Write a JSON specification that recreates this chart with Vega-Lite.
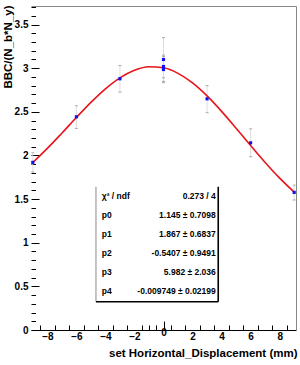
{
  "$schema": "https://vega.github.io/schema/vega-lite/v6.json",
  "width": 265,
  "height": 324,
  "autosize": {"type": "none"},
  "padding": {"left": 31, "top": 6, "right": 4, "bottom": 35},
  "background": "white",
  "config": {
    "view": {"stroke": null},
    "font": "Liberation Sans",
    "axis": {
      "labelFont": "Liberation Sans",
      "labelFontWeight": "bold",
      "labelFontSize": 10,
      "labelColor": "#000",
      "titleFont": "Liberation Sans",
      "titleFontWeight": "bold",
      "titleFontSize": 11.5,
      "titleColor": "#000",
      "grid": false,
      "labelFlush": false,
      "labelOverlap": false,
      "labelBound": false
    }
  },
  "datasets": {
    "points": [
      {"x": -9, "y": 1.921, "lo": 1.811, "hi": 2.031},
      {"x": -6, "y": 2.443, "lo": 2.31, "hi": 2.57},
      {"x": -3, "y": 2.879, "lo": 2.726, "hi": 3.03},
      {"x": 0, "y": 3.1, "lo": 2.85, "hi": 3.35},
      {"x": 0, "y": 3.02, "lo": 2.89, "hi": 3.15},
      {"x": 0, "y": 2.985, "lo": 2.835, "hi": 3.135},
      {"x": 3, "y": 2.649, "lo": 2.49, "hi": 2.8},
      {"x": 6, "y": 2.145, "lo": 1.985, "hi": 2.305},
      {"x": 9, "y": 1.577, "lo": 1.49, "hi": 1.66}
    ],
    "curve": [
      {"x": -9, "y": 1.9197},
      {"x": -8, "y": 2.0811},
      {"x": -7, "y": 2.2555},
      {"x": -6, "y": 2.4346},
      {"x": -5, "y": 2.6079},
      {"x": -4, "y": 2.7635},
      {"x": -3, "y": 2.89},
      {"x": -2, "y": 2.9768},
      {"x": -1, "y": 3.0163},
      {"x": 0, "y": 3.0044},
      {"x": 1, "y": 2.9413},
      {"x": 2, "y": 2.8315},
      {"x": 3, "y": 2.6827},
      {"x": 4, "y": 2.5057},
      {"x": 5, "y": 2.3121},
      {"x": 6, "y": 2.1135},
      {"x": 7, "y": 1.9203},
      {"x": 8, "y": 1.7408},
      {"x": 9, "y": 1.5806}
    ],
    "box": [
      {"side": "left", "x": -4.65, "x2": -4.65, "y": 0.324, "y2": 1.641},
      {"side": "right", "x": 3.77, "x2": 3.77, "y": 0.324, "y2": 1.641},
      {"side": "bottom", "x": -4.65, "x2": 3.77, "y": 0.324, "y2": 0.324}
    ],
    "stats": [
      {"label": "χ² / ndf", "value": "0.273 / 4", "y": 1.534},
      {"label": "p0", "value": "1.145 ± 0.7098", "y": 1.317},
      {"label": "p1", "value": "1.867 ± 0.6837", "y": 1.099},
      {"label": "p2", "value": "-0.5407 ± 0.9491", "y": 0.882},
      {"label": "p3", "value": "5.982 ± 2.036", "y": 0.664},
      {"label": "p4", "value": "-0.009749 ± 0.02199", "y": 0.447}
    ]
  },
  "layer": [
    {
      "data": {"name": "points"},
      "mark": {"type": "rule", "color": "#dddddd", "strokeWidth": 1},
      "encoding": {
        "x": {
          "field": "x",
          "type": "quantitative",
          "scale": {"domain": [-9.125, 9.125], "nice": false, "zero": false},
          "axis": {
            "orient": "bottom",
            "values": [-8.5, -8, -7.5, -6.5, -6, -5.5, -4.5, -4, -3.5, -2.5, -2, -1.5, -1, -0.5, 0, 0.5, 1.5, 2, 2.5, 3.5, 4, 4.5, 5.5, 6, 6.5, 7.5, 8, 8.5],
            "format": "~g",
            "domainColor": "#000",
            "tickColor": "#000",
            "tickSize": {"condition": {"test": "datum.value === 0", "value": -9}, "value": -5},
            "tickOpacity": {"condition": {"test": "datum.value % 2 === 0 && datum.value !== 0", "value": 0}, "value": 1},
            "labelOpacity": {"condition": {"test": "datum.value % 2 !== 0", "value": 0}, "value": 1},
            "labelPadding": 6,
            "title": "set Horizontal_Displacement (mm)",
            "titleX": 266,
            "titleY": 23,
            "titleAlign": "right",
            "titleBaseline": "middle"
          }
        },
        "y": {
          "field": "lo",
          "type": "quantitative",
          "scale": {"domain": [0, 3.713], "nice": false},
          "axis": {
            "orient": "left",
            "values": [0, 0.1, 0.2, 0.3, 0.4, 0.5, 0.6, 0.7, 0.8, 0.9, 1, 1.1, 1.2, 1.3, 1.4, 1.5, 1.6, 1.7, 1.8, 1.9, 2, 2.1, 2.2, 2.3, 2.4, 2.5, 2.6, 2.7, 2.8, 2.9, 3, 3.1, 3.2, 3.3, 3.4, 3.5, 3.6, 3.7],
            "format": "~g",
            "domain": false,
            "tickColor": "#000",
            "tickSize": {"condition": {"test": "abs(datum.value * 2 - round(datum.value * 2)) < 0.001", "value": -8}, "value": -4.5},
            "labelOpacity": {"condition": {"test": "abs(datum.value * 2 - round(datum.value * 2)) < 0.001", "value": 1}, "value": 0},
            "labelPadding": 11,
            "title": "BBC/(N_b*N_y)",
            "titleX": -23,
            "titleY": -1,
            "titleAngle": -90,
            "titleAlign": "right",
            "titleBaseline": "middle"
          }
        },
        "y2": {"field": "hi"}
      }
    },
    {
      "data": {"name": "points"},
      "mark": {"type": "tick", "orient": "horizontal", "color": "#888888", "size": 3, "thickness": 1},
      "encoding": {
        "x": {"field": "x", "type": "quantitative", "axis": null},
        "y": {"field": "lo", "type": "quantitative", "axis": null}
      }
    },
    {
      "data": {"name": "points"},
      "mark": {"type": "tick", "orient": "horizontal", "color": "#888888", "size": 3, "thickness": 1},
      "encoding": {
        "x": {"field": "x", "type": "quantitative", "axis": null},
        "y": {"field": "hi", "type": "quantitative", "axis": null}
      }
    },
    {
      "data": {"name": "curve"},
      "mark": {"type": "line", "color": "#e8141a", "strokeWidth": 1.6, "interpolate": "monotone"},
      "encoding": {
        "x": {"field": "x", "type": "quantitative", "axis": {"orient": "top", "domainColor": "#888", "ticks": false, "labels": false, "title": null}},
        "y": {"field": "y", "type": "quantitative", "axis": {"orient": "right", "domainColor": "#888", "ticks": false, "labels": false, "title": null}}
      }
    },
    {
      "data": {"name": "points"},
      "mark": {"type": "square", "color": "#1010f0", "filled": true, "opacity": 1, "size": 10},
      "encoding": {
        "x": {"field": "x", "type": "quantitative", "axis": null},
        "y": {"field": "y", "type": "quantitative", "axis": null}
      }
    },
    {
      "data": {"name": "box"},
      "transform": [{"filter": "datum.side === 'left'"}],
      "mark": {"type": "rule", "color": "#888888", "strokeWidth": 1},
      "encoding": {
        "x": {"field": "x", "type": "quantitative", "axis": null},
        "x2": {"field": "x2"},
        "y": {"field": "y", "type": "quantitative", "axis": null},
        "y2": {"field": "y2"}
      }
    },
    {
      "data": {"name": "box"},
      "transform": [{"filter": "datum.side !== 'left'"}],
      "mark": {"type": "rule", "color": "#000000", "strokeWidth": 1.6},
      "encoding": {
        "x": {"field": "x", "type": "quantitative", "axis": null},
        "x2": {"field": "x2"},
        "y": {"field": "y", "type": "quantitative", "axis": null},
        "y2": {"field": "y2"}
      }
    },
    {
      "data": {"name": "stats"},
      "mark": {"type": "text", "align": "left", "baseline": "middle", "font": "Liberation Sans", "fontWeight": "bold", "fontSize": 8.5, "color": "#000"},
      "encoding": {
        "x": {"datum": -4.25, "type": "quantitative", "axis": null},
        "y": {"field": "y", "type": "quantitative", "axis": null},
        "text": {"field": "label"}
      }
    },
    {
      "data": {"name": "stats"},
      "mark": {"type": "text", "align": "right", "baseline": "middle", "font": "Liberation Sans", "fontWeight": "bold", "fontSize": 8.5, "color": "#000"},
      "encoding": {
        "x": {"datum": 3.6, "type": "quantitative", "axis": null},
        "y": {"field": "y", "type": "quantitative", "axis": null},
        "text": {"field": "value"}
      }
    }
  ],
  "resolve": {"axis": {"x": "independent", "y": "independent"}}
}
